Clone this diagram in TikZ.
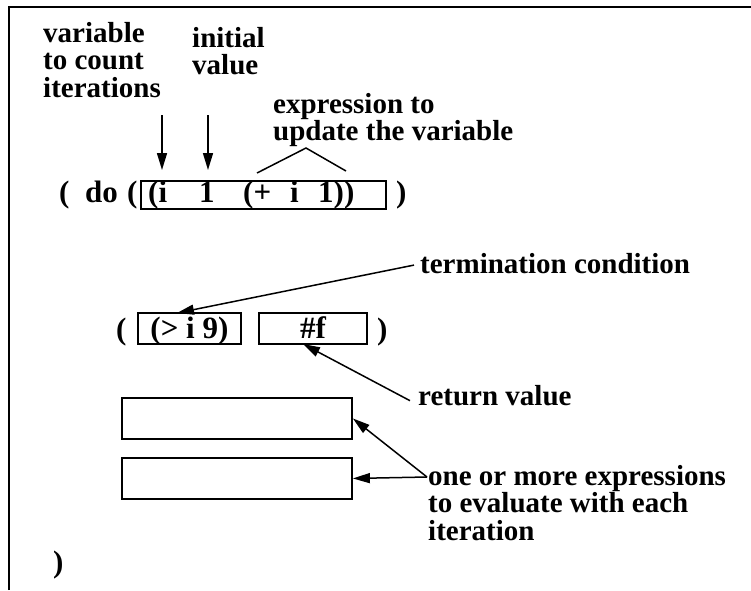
\documentclass[tikz,border=0pt]{standalone}
\usepackage{fontspec}
\setmainfont{Liberation Serif}
\usetikzlibrary{arrows.meta}
\tikzset{
  lbl/.style={inner sep=0pt, font=\bfseries\fontsize{29}{27.5}\selectfont},
  multilbl/.style={lbl, align=left, anchor=north west},
  codefont/.style={font=\bfseries\fontsize{31}{31}\selectfont},
  tok/.style={inner sep=0pt, anchor=base west, codefont},
  slot/.style={draw, line width=1.9pt, inner sep=0pt, anchor=north west, codefont},
  arr/.style={line width=1.5pt, -{Triangle[length=17pt, width=10pt]}},
  plain/.style={line width=1.5pt}
}
\begin{document}
\begin{tikzpicture}[x=1pt, y=-1pt]
\useasboundingbox (0,0) rectangle (751,590);

% partial frame: top and left edges only
\draw[line width=2.5pt] (9,590) -- (9,7) -- (751,7);

% labels above the binding list
\node[multilbl] (varlbl) at (43,22) {variable\\to count\\iterations};
\node[multilbl] (initlbl) at (192,27) {initial\\value};
\node[multilbl] (updlbl) at (273,93) {expression to\\update the variable};

% first line: ( do ( [binding] )
\node[tok] (op1) at (59,202) {(};
\node[tok] (dokw) at (85,202) {do};
\node[tok] (op2) at (127,202) {(};
\node[slot, minimum width=245pt, minimum height=28pt] (bind) at (140,180) {};
\node[tok] (bvar) at (148,202) {(i};
\node[tok] (binit) at (199,202) {1};
\node[tok] (bplus) at (243,202) {(+};
\node[tok] (bstepvar) at (290,202) {i};
\node[tok] (bstep) at (318,202) {1))};
\node[tok] (cp1) at (396,202) {)};

% arrows into the binding
\coordinate (t1) at (162,170);
\coordinate (t2) at (208,170);
\coordinate (s1) at (162,115);
\coordinate (s2) at (208,115);
\draw[arr] (s1) -- (t1);
\draw[arr] (s2) -- (t2);
\coordinate (ca) at (257,173);
\coordinate (cb) at (306,148);
\coordinate (cc) at (346,171);
\draw[plain] (ca) -- (cb) -- (cc);

% second line: ( [test] [result] )
\node[tok] (op3) at (116,339) {(};
\node[slot, minimum width=103pt, minimum height=31pt, text height=24pt, text depth=3pt] (test) at (137,312) {(> i 9)};
\node[slot, minimum width=108pt, minimum height=31pt, text height=24pt, text depth=3pt] (result) at (258,312) {\#f};
\node[tok] (cp2) at (377,339) {)};

\node[tok, lbl] (termlbl) at (420,273) {termination condition};
\node[tok, lbl] (retlbl) at (418,405) {return value};
\coordinate (termtip) at (177,313);
\coordinate (rettip) at (303,344);
\draw[arr] ([xshift=-6pt,yshift=-2pt]termlbl.west) -- (termtip);
\draw[arr] ([xshift=-8pt,yshift=-16pt]retlbl.north west) -- (rettip);

% body expressions
\node[slot, minimum width=230pt, minimum height=41pt] (body1) at (121,397) {};
\node[slot, minimum width=230pt, minimum height=41pt] (body2) at (121,457) {};
\node[multilbl] (bodylbl) at (428,465) {one or more expressions\\to evaluate with each\\iteration};
\coordinate (bodysrc) at (427,477);
\draw[arr] (bodysrc) -- (body1.east);
\draw[arr] (bodysrc) -- (body2.east);

% closing paren
\node[tok] (cp3) at (53,572) {)};
\end{tikzpicture}
\end{document}
